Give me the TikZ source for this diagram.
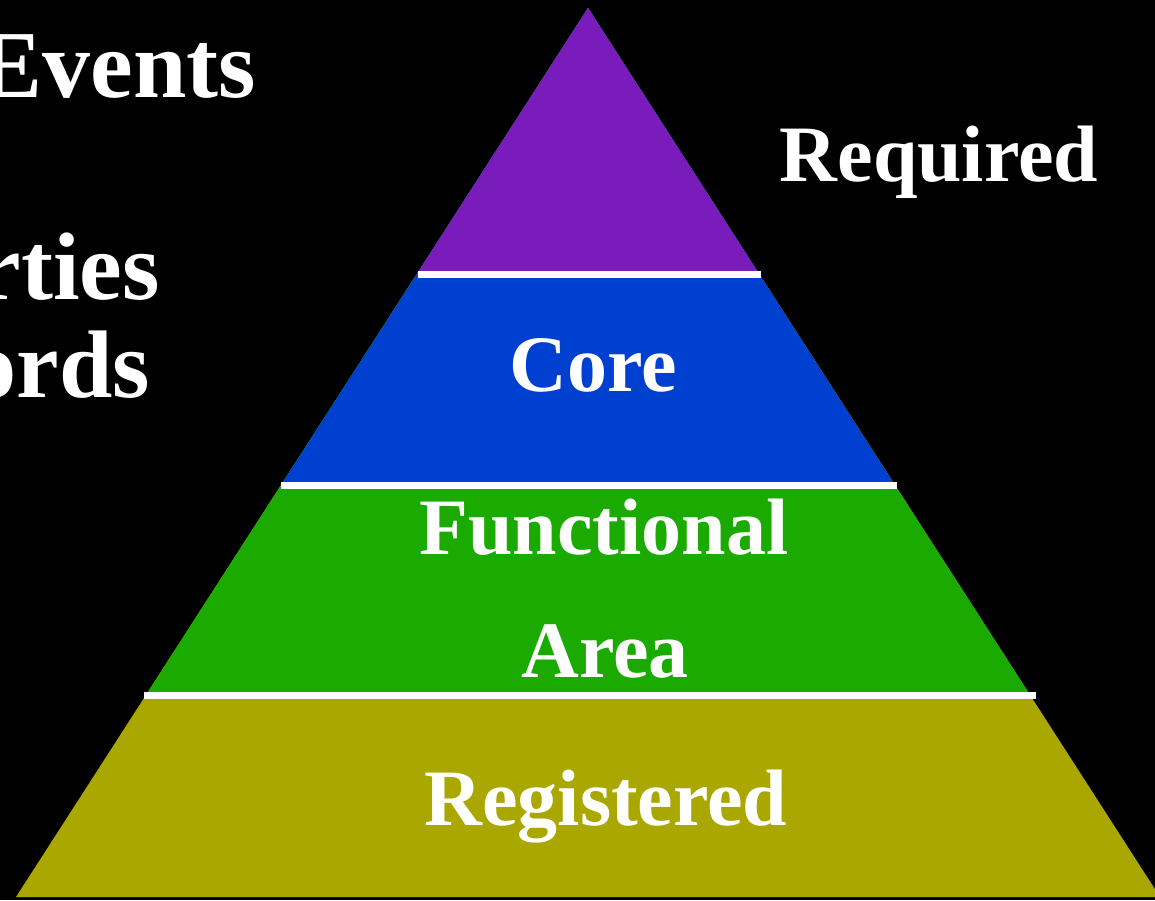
\documentclass[tikz,border=0pt]{standalone}
\usepackage{fontspec}
\setmainfont{Liberation Serif}
\usetikzlibrary{positioning,calc}

\definecolor{TopPurple}{RGB}{122,28,188}
\definecolor{CoreBlue}{RGB}{0,64,208}
\definecolor{AreaGreen}{RGB}{26,170,0}
\definecolor{RegOlive}{RGB}{170,168,0}

\tikzset{
    tierText/.style={white, inner sep=0pt, anchor=base, font=\bfseries\fontsize{80}{90}\selectfont},
    sideText/.style={white, inner sep=0pt, anchor=base east, font=\bfseries\fontsize{96}{104}\selectfont},
    divider/.style={white, line width=7pt}
}

\begin{document}
\begin{tikzpicture}[x=1pt, y=1pt]
    \useasboundingbox (0,0) rectangle (1155,900);
    \fill[black] (0,0) rectangle (1155,900);
    \clip (0,0) rectangle (1155,900);

    \coordinate (Apex) at (588,892);
    \coordinate (BaseLeft) at (16,3);
    \coordinate (BaseRight) at (1160,3);

    % tier edges along the sides
    \coordinate (CutOneL) at ($(Apex)!0.3003!(BaseLeft)$);
    \coordinate (CutOneR) at ($(Apex)!0.3003!(BaseRight)$);
    \coordinate (CutTwoL) at ($(Apex)!0.5371!(BaseLeft)$);
    \coordinate (CutTwoR) at ($(Apex)!0.5371!(BaseRight)$);
    \coordinate (CutThreeL) at ($(Apex)!0.7728!(BaseLeft)$);
    \coordinate (CutThreeR) at ($(Apex)!0.7728!(BaseRight)$);

    \fill[RegOlive] (Apex) -- (BaseLeft) -- (BaseRight) -- cycle;
    \fill[AreaGreen] (Apex) -- (CutThreeL) -- (CutThreeR) -- cycle;
    \fill[CoreBlue] (Apex) -- (CutTwoL) -- (CutTwoR) -- cycle;
    \fill[TopPurple] (Apex) -- (CutOneL) -- (CutOneR) -- cycle;

    \draw[divider] ($(CutOneL)+(2,0)$) -- ($(CutOneR)+(1,0)$);
    \draw[divider] (CutTwoL) -- ($(CutTwoR)+(2,0)$);
    \draw[divider] ($(CutThreeL)+(-2,0)$) -- ($(CutThreeR)+(6,0)$);

    \node[tierText] (Core) at (593,508) {Core};
    \node[tierText] (Functional) at (604,345) {Functional};
    \node[tierText] (Area) at (605,223) {Area};
    \node[tierText] (Registered) at (606,75) {Registered};
    \node[tierText] (Required) at (939,718) {Required};

    \node[sideText] (Events) at (256,802) {Events};
    \node[sideText] (Rties) at (160,600) {rties};
    \node[sideText] (Ords) at (150,502) {ords};
\end{tikzpicture}
\end{document}
